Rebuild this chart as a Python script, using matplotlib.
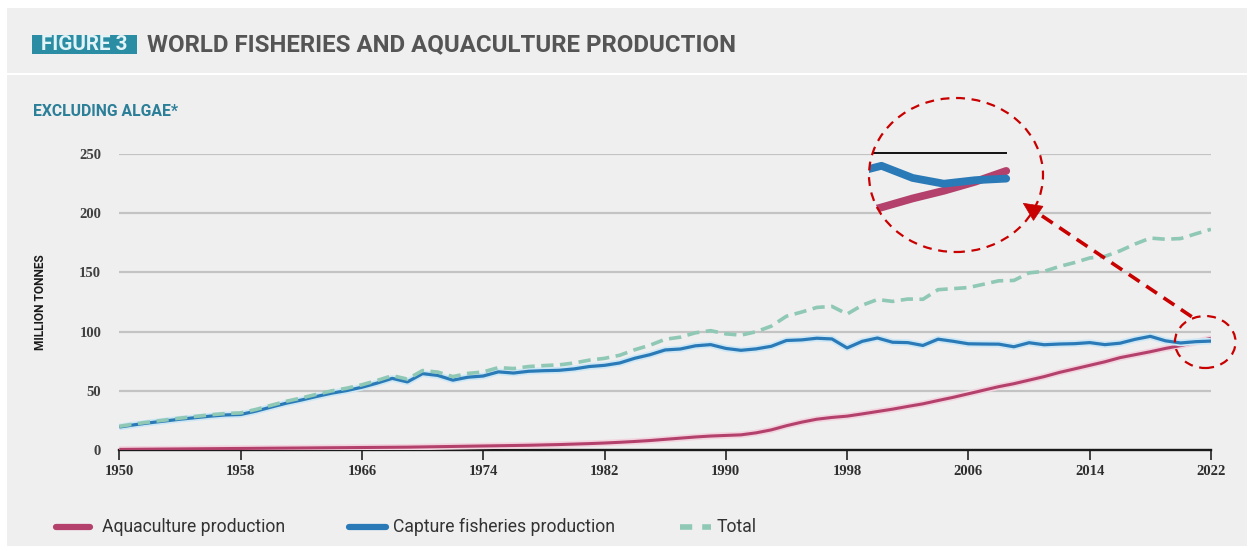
import matplotlib
matplotlib.use('Agg')
import matplotlib.pyplot as plt
from matplotlib.patches import Ellipse, Rectangle, Polygon
from matplotlib.lines import Line2D
import matplotlib.patheffects as pe

# ---------------- data ----------------
years = list(range(1950, 2023))

aquaculture = [0.5, 0.6, 0.7, 0.8, 0.9, 1.0, 1.1, 1.2, 1.3, 1.4,
               1.5, 1.6, 1.7, 1.8, 1.9, 2.0, 2.1, 2.2, 2.3, 2.4,
               2.6, 2.8, 3.0, 3.2, 3.4, 3.6, 3.8, 4.0, 4.3, 4.6,
               5.0, 5.4, 5.9, 6.5, 7.2, 8.0, 9.0, 10.0, 11.0, 11.8,
               12.3, 12.8, 14.5, 17.0, 20.5, 23.5, 26.0, 27.5, 28.6, 30.5,
               32.5, 34.5, 36.8, 39.0, 41.8, 44.5, 47.5, 50.5, 53.5, 56.0,
               59.0, 62.0, 65.5, 68.5, 71.5, 74.5, 78.0, 80.5, 83.0, 85.8,
               88.2, 91.0, 94.4]

capture = [19.4, 21.3, 23.0, 24.5, 26.0, 27.3, 28.6, 29.6, 30.0, 32.8,
           36.2, 39.5, 42.2, 45.2, 48.0, 50.2, 53.0, 56.5, 60.5, 57.5,
           64.5, 63.0, 59.0, 61.5, 62.5, 66.0, 65.0, 66.5, 67.0, 67.3,
           68.5, 70.5, 71.5, 73.5, 77.5, 80.5, 84.5, 85.3, 88.0, 89.0,
           85.8, 84.2, 85.4, 87.6, 92.5, 93.0, 94.4, 93.8, 86.2, 91.8,
           94.6, 91.0, 90.7, 88.3, 93.6, 91.8, 89.7, 89.5, 89.4, 87.2,
           90.6, 88.9, 89.5, 89.8, 90.7, 89.0, 90.2, 93.5, 96.0, 92.2,
           90.4, 91.5, 92.0]

total = [20.0, 22.0, 23.7, 25.3, 26.9, 28.3, 29.7, 30.8, 31.3, 34.2,
         37.7, 41.1, 43.9, 47.0, 49.9, 52.2, 55.1, 58.7, 62.8, 59.9,
         67.1, 65.8, 62.0, 64.7, 65.9, 69.6, 68.8, 70.5, 71.3, 71.9,
         73.5, 75.9, 77.4, 80.0, 84.7, 88.5, 93.5, 95.3, 99.0, 100.8,
         98.1, 97.0, 99.9, 104.6, 113.0, 116.5, 120.4, 121.3, 114.8, 122.3,
         127.1, 125.5, 127.5, 127.3, 135.4, 136.3, 137.2, 140.0, 142.9, 143.2,
         149.6, 150.9, 155.0, 158.3, 162.2, 163.5, 168.2, 174.0, 179.0, 178.0,
         178.6, 182.6, 186.4]

x_ticks = [1950, 1958, 1966, 1974, 1982, 1990, 1998, 2006, 2014, 2022]
y_ticks = [0, 50, 100, 150, 200, 250]

title_tag = "FIGURE 3"
title_text = "WORLD FISHERIES AND AQUACULTURE PRODUCTION"
subtitle_text = "EXCLUDING ALGAE*"
y_label = "MILLION TONNES"
legend_labels = ["Aquaculture production", "Capture fisheries production", "Total"]

# ---------------- style ----------------
BG = '#efefef'
GRID = '#c3c3c3'
PINK = '#b3416c'
BLUE = '#2a7ab8'
TOTAL = '#8fc8b4'
RED = '#c80000'
TEAL = '#2a8da3'
NARROW = ['Liberation Sans Narrow', 'Roboto', 'DejaVu Sans']
SERIF = ['Liberation Serif', 'DejaVu Serif']

W, H = 1254, 551
fig = plt.figure(figsize=(W / 100, H / 100), dpi=100)
fig.patch.set_facecolor('white')
renderer = fig.canvas.get_renderer()


def fx(px):
    return px / W


def fy(py):
    return 1 - py / H


def fit(t, target, use_height=False):
    bb = t.get_window_extent(renderer)
    cur = bb.height if use_height else bb.width
    t.set_fontsize(t.get_fontsize() * target / cur)


# panel background and separator
fig.add_artist(Rectangle((fx(7), fy(546)), fx(1247) - fx(7), fy(8) - fy(546),
                         transform=fig.transFigure, facecolor=BG, edgecolor='none', zorder=0))
fig.add_artist(Line2D([fx(7), fx(1247)], [fy(74), fy(74)], transform=fig.transFigure,
                      color='white', lw=1.5, zorder=1))

# header
fig.add_artist(Rectangle((fx(32), fy(54)), fx(137) - fx(32), fy(35) - fy(54),
                         transform=fig.transFigure, facecolor=TEAL, edgecolor='none', zorder=2))
t = fig.text(fx(84.5), fy(45), title_tag, color='#e2f4f7', fontsize=12, fontweight='bold',
             family=NARROW, ha='center', va='center', zorder=3)
fit(t, 86)
t = fig.text(fx(147), fy(44.5), title_text, color='#555555', fontsize=15, fontweight='bold',
             family=NARROW, ha='left', va='center', zorder=3)
fit(t, 591)
t = fig.text(fx(33), fy(112), subtitle_text, color='#2b7f98', fontsize=9, fontweight='bold',
             family=NARROW, ha='left', va='center', zorder=3)
fit(t, 145)
t = fig.text(fx(40), fy(302), y_label, color='#1a1a1a', fontsize=9, fontweight='bold',
             family=NARROW, ha='center', va='center', rotation=90, zorder=3)
fit(t, 95, use_height=True)

# ---------------- main axes ----------------
x0, x1 = 119.3, 1211.0
y0, y1 = 450.0, 154.0
ax = fig.add_axes([fx(x0), fy(y0), (x1 - x0) / W, (y0 - y1) / H])
ax.set_facecolor('none')
ax.set_xlim(1950, 2022)
ax.set_ylim(0, 250)
for s in ['top', 'right', 'left']:
    ax.spines[s].set_visible(False)
ax.spines['bottom'].set_color('#1a1a1a')
ax.spines['bottom'].set_linewidth(1.7)
ax.spines['bottom'].set_zorder(2.5)
ax.set_xticks(x_ticks)
ax.set_xticklabels([str(v) for v in x_ticks])
ax.set_yticks(y_ticks)
ax.set_yticklabels([str(v) for v in y_ticks])
ax.tick_params(axis='x', direction='out', length=7.5, width=1.2, color='#222222', pad=3.5,
               labelsize=10.5, labelcolor='#2e2e2e')
ax.tick_params(axis='y', length=0, pad=13, labelsize=10.5, labelcolor='#404040')
for lab in ax.get_xticklabels() + ax.get_yticklabels():
    lab.set_family(SERIF)
    lab.set_fontweight('bold')
ax.yaxis.grid(True, color=GRID, lw=1.6)
ax.set_axisbelow(True)

ax.plot(years, aquaculture, color=PINK, lw=2.2, zorder=3, solid_capstyle='butt',
        path_effects=[pe.Stroke(linewidth=4.6, foreground='#f2d3de'), pe.Normal()])
ax.plot(years, capture, color=BLUE, lw=2.3, zorder=4, solid_capstyle='butt',
        path_effects=[pe.Stroke(linewidth=4.8, foreground='#cde7f5'), pe.Normal()])
ax.plot(years, total, color=TOTAL, lw=2.6, zorder=5, linestyle=(0, (3.4, 1.8)))

# small highlight circle around the last years
ax.add_patch(Ellipse((2021.62, 91.2), 4.0, 43.9, fill=False, edgecolor=RED, lw=1.6,
                     linestyle=(0, (4, 3)), clip_on=False, zorder=6))

# ---------------- magnified inset ----------------
ax_in = fig.add_axes([fx(869), fy(252), 174 / W, 154 / H])
ax_in.set_xlim(2017.6, 2023.18)
ax_in.set_ylim(69.06, 117.19)
ax_in.axis('off')
disc = Ellipse((0.5, 0.5), 1, 1, transform=ax_in.transAxes, facecolor=BG, edgecolor='none', zorder=0)
ax_in.add_patch(disc)
l1, = ax_in.plot([1950, 2022], [100, 100], color='#111111', lw=1.4, zorder=2)
l2, = ax_in.plot(years, aquaculture, color=PINK, lw=5.6, zorder=3, solid_capstyle='round')
l3, = ax_in.plot(years, capture, color=BLUE, lw=5.6, zorder=4, solid_capstyle='round')
for ln in (l1, l2, l3):
    ln.set_clip_path(disc)
ax_in.add_patch(Ellipse((0.5, 0.5), 1, 1, transform=ax_in.transAxes, fill=False, edgecolor=RED,
                        lw=1.6, linestyle=(0, (4, 3)), clip_on=False, zorder=6))

# arrow from small circle to inset
sx, sy = 1191.7, 316.7
tx, ty = 1023.3, 203.3
dx, dy = tx - sx, ty - sy
L = (dx ** 2 + dy ** 2) ** 0.5
ux, uy = dx / L, dy / L
hl, hw = 18.0, 8.5
bx, by = tx - hl * ux, ty - hl * uy
fig.add_artist(Line2D([fx(sx), fx(bx + 2 * ux)], [fy(sy), fy(by + 2 * uy)], transform=fig.transFigure,
                      color=RED, lw=2.6, linestyle=(0, (3.6, 2.2)), zorder=7))
px_, py_ = -uy, ux
head = [(fx(tx), fy(ty)), (fx(bx + hw * px_), fy(by + hw * py_)), (fx(bx - hw * px_), fy(by - hw * py_))]
fig.add_artist(Polygon(head, closed=True, transform=fig.transFigure, facecolor=RED,
                       edgecolor=RED, lw=0.5, zorder=7))

# ---------------- legend ----------------
ly = 527
fig.add_artist(Line2D([fx(56), fx(90)], [fy(ly), fy(ly)], transform=fig.transFigure,
                      color=PINK, lw=4.5, solid_capstyle='round', zorder=3))
t0 = fig.text(fx(102), fy(ly), legend_labels[0], color='#333333', fontsize=13, family=NARROW,
              ha='left', va='center', zorder=3)
fit(t0, 184)
lfs = t0.get_fontsize()
fig.add_artist(Line2D([fx(349), fx(386)], [fy(ly), fy(ly)], transform=fig.transFigure,
                      color=BLUE, lw=4.5, solid_capstyle='round', zorder=3))
fig.text(fx(393), fy(ly), legend_labels[1], color='#333333', fontsize=lfs, family=NARROW,
         ha='left', va='center', zorder=3)
fig.add_artist(Line2D([fx(680), fx(711)], [fy(ly), fy(ly)], transform=fig.transFigure,
                      color=TOTAL, lw=4.0, linestyle=(0, (2.2, 1.8)), zorder=3))
fig.text(fx(717), fy(ly), legend_labels[2], color='#333333', fontsize=lfs, family=NARROW,
         ha='left', va='center', zorder=3)

fig.savefig('out.png', dpi=100, facecolor=fig.get_facecolor())
